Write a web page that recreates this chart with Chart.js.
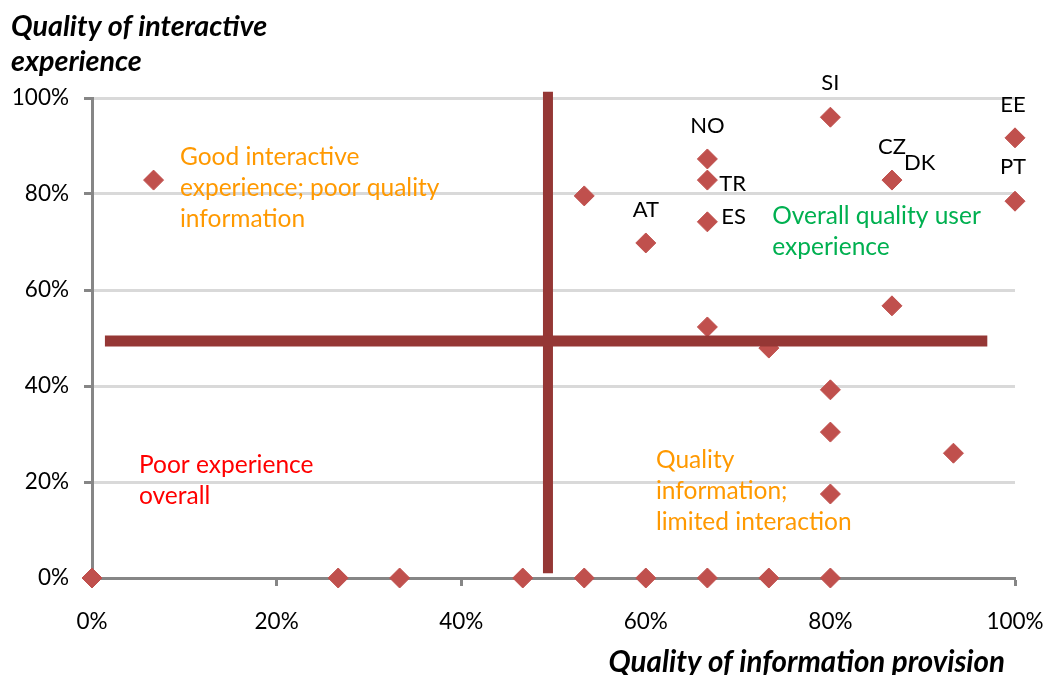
<!DOCTYPE html>
<html>
<head>
<meta charset="utf-8">
<script src="https://cdn.jsdelivr.net/npm/chart.js@4/dist/chart.umd.min.js"></script>
<style>
  html, body { margin: 0; padding: 0; background: #ffffff; }
  #wrap { position: relative; width: 1047px; height: 675px; }
</style>
</head>
<body>
<div id="wrap"><canvas id="c" width="1047" height="675"></canvas></div>
<script>
// ---- data (percent) ----
const infoQuality = [6.67, 53.33, 60, 66.67, 66.67, 66.67, 66.67, 73.33, 80, 80, 80, 80, 86.67, 86.67, 93.33, 100, 100,
                     0, 26.67, 33.33, 46.67, 53.33, 60, 66.67, 73.33, 80];
const interactiveQuality = [82.9, 79.6, 69.8, 87.3, 82.9, 74.2, 52.3, 47.9, 96.0, 39.2, 30.4, 17.5, 82.9, 56.7, 26.0, 91.7, 78.5,
                            0, 0, 0, 0, 0, 0, 0, 0, 0];
const countryNames = ["AT", "NO", "TR", "ES", "SI", "CZ", "DK", "EE", "PT"];
const countryPoint = [2, 3, 4, 5, 8, 12, 12, 15, 16];   // index into the series above
const xTickValues = [0, 20, 40, 60, 80, 100];
const yTickValues = [0, 20, 40, 60, 80, 100];
const hLine = { x: [1.4, 97], y: [49.4, 49.4] };
const vLine = { x: [49.4, 49.4], y: [101.3, 1] };
const quadrantTexts = [
  ["Good interactive", "experience; poor quality", "information"],
  ["Poor experience", "overall"],
  ["Quality", "information;", "limited interaction"],
  ["Overall quality user", "experience"]
];
const quadrantAnchors = [[9.53, 87.7], [5.09, 23.5], [61.1, 24.6], [73.7, 75.4]];

// ---- styles ----
const FONT = "Lato, 'Open Sans', sans-serif";
const quadrantColors = ["#FF9900", "#FF0000", "#FF9900", "#00B050"];
// pixel offset of each country label from its point: [dx, dy, align]
const countryOffsets = [[0, -33, "center"], [0, -33, "center"], [12, 4, "left"], [14, -5, "left"],
                        [0, -34, "center"], [0, -33, "center"], [12, -17, "left"], [-2, -33, "center"], [-2, -34, "center"]];

const points = infoQuality.map((x, i) => ({ x: x, y: interactiveQuality[i] }));

const annotations = {
  id: "annotations",
  afterDatasetsDraw(chart) {
    const ctx = chart.ctx;
    const xs = chart.scales.x, ys = chart.scales.y;
    ctx.save();
    ctx.textBaseline = "middle";
    // country labels
    ctx.font = "22px " + FONT;
    ctx.fillStyle = "#000000";
    countryNames.forEach((n, i) => {
      const p = points[countryPoint[i]];
      const o = countryOffsets[i];
      ctx.textAlign = o[2];
      ctx.fillText(n, xs.getPixelForValue(p.x) + o[0], ys.getPixelForValue(p.y) + o[1]);
    });
    // quadrant labels
    ctx.textAlign = "left";
    ctx.font = "24.5px " + FONT;
    quadrantTexts.forEach((lines, i) => {
      ctx.fillStyle = quadrantColors[i];
      const px = xs.getPixelForValue(quadrantAnchors[i][0]);
      const py = ys.getPixelForValue(quadrantAnchors[i][1]);
      lines.forEach((t, j) => ctx.fillText(t, px, py + j * 31));
    });
    // axis titles
    ctx.fillStyle = "#000000";
    ctx.font = "italic bold 28.7px " + FONT;
    ctx.textAlign = "left";
    ctx.fillText("Quality of interactive", 11, 27);
    ctx.fillText("experience", 11, 62);
    ctx.font = "italic bold 29.5px " + FONT;
    ctx.textAlign = "right";
    ctx.fillText("Quality of information provision", 1005, 662);
    ctx.restore();
  }
};

new Chart(document.getElementById("c"), {
  type: "scatter",
  data: {
    datasets: [
      {
        type: "line",
        data: hLine.x.map((x, i) => ({ x: x, y: hLine.y[i] })),
        borderColor: "#953735", borderWidth: 11, pointRadius: 0, fill: false, clip: false, borderCapStyle: "butt"
      },
      {
        type: "line",
        data: vLine.x.map((x, i) => ({ x: x, y: vLine.y[i] })),
        borderColor: "#953735", borderWidth: 10, pointRadius: 0, fill: false, clip: false, borderCapStyle: "butt"
      },
      {
        data: points,
        pointStyle: "rectRot",
        pointRadius: 10,
        pointBackgroundColor: "#C0504D",
        pointBorderColor: "#C0504D",
        pointBorderWidth: 1,
        clip: false
      }
    ]
  },
  options: {
    responsive: false,
    animation: false,
    events: [],
    layout: { padding: { left: 0, right: 32, top: 98, bottom: 0 } },
    plugins: { legend: { display: false }, tooltip: { enabled: false } },
    scales: {
      x: {
        type: "linear", min: 0, max: 100,
        afterBuildTicks: s => { s.ticks = xTickValues.map(v => ({ value: v })); },
        afterFit: s => { s.height = 97; s.paddingLeft = 0; s.paddingRight = 0; },
        grid: { drawOnChartArea: false, drawTicks: true, tickLength: 8, tickColor: "#868686", tickWidth: 3 },
        border: { display: true, color: "#868686", width: 3 },
        ticks: { color: "#000000", font: { family: FONT, size: 22.5 }, padding: 22, maxRotation: 0,
                 callback: v => v + "%" }
      },
      y: {
        type: "linear", min: 0, max: 100,
        afterBuildTicks: s => { s.ticks = yTickValues.map(v => ({ value: v })); },
        afterFit: s => { s.width = 92; s.paddingTop = 0; s.paddingBottom = 0; },
        grid: { color: "#D9D9D9", lineWidth: 3, drawTicks: true, tickLength: 8, tickColor: "#868686", tickWidth: 3 },
        border: { display: true, color: "#868686", width: 3 },
        ticks: { color: "#000000", font: { family: FONT, size: 22.5 }, padding: 15,
                 callback: v => v + "%" }
      }
    }
  },
  plugins: [annotations]
});
</script>
</body>
</html>
